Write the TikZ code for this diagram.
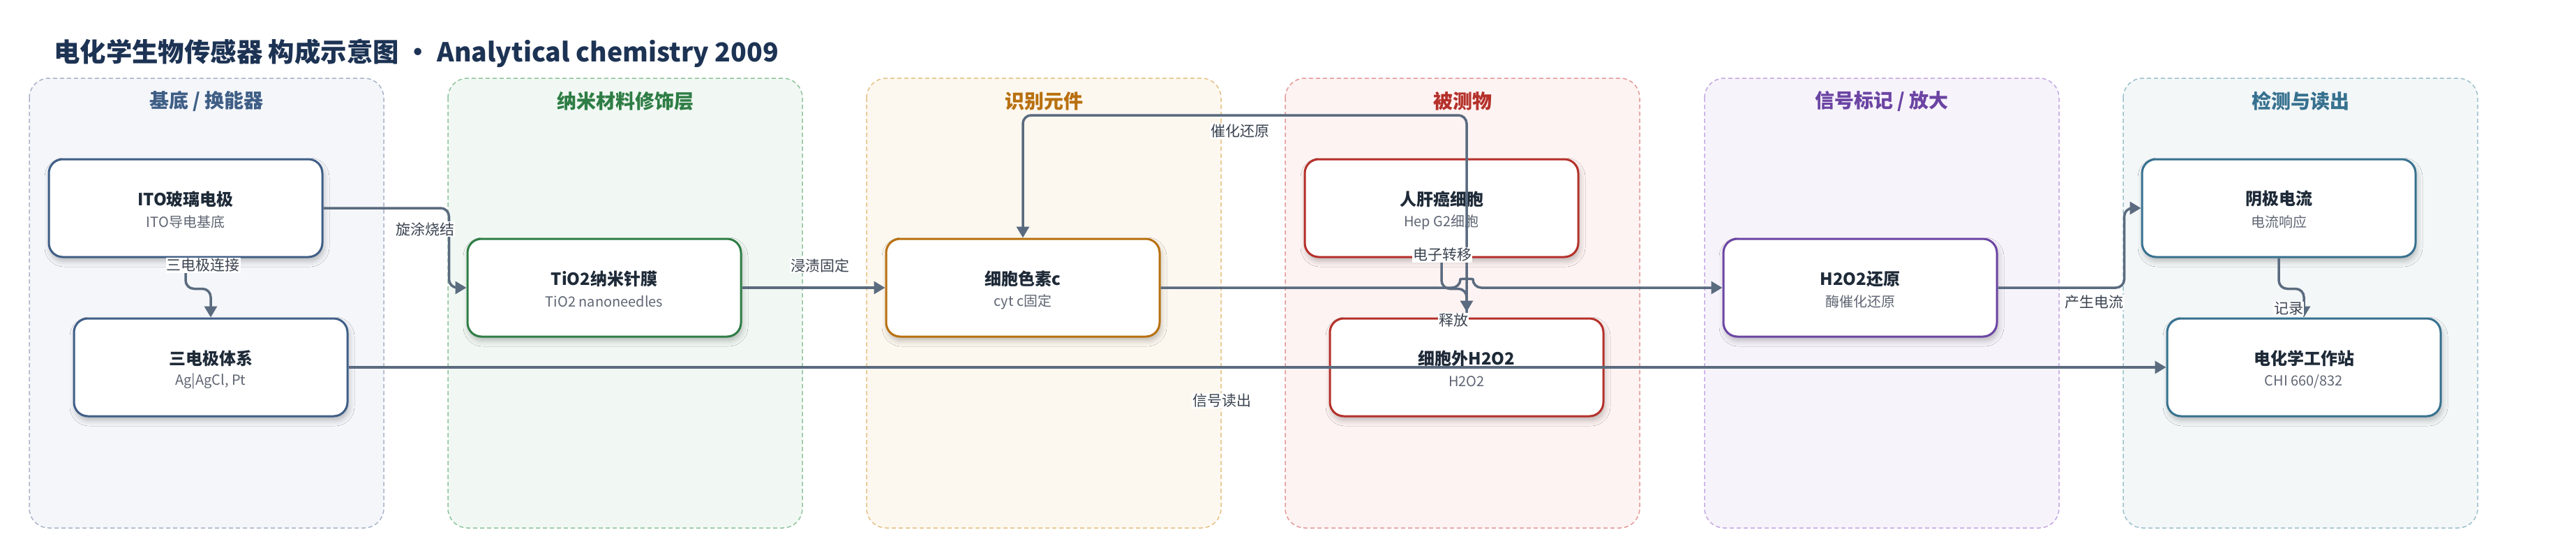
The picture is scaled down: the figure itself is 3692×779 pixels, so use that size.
\documentclass[tikz,border=0pt]{standalone}
\usepackage{fontspec}
\setmainfont{Noto Sans CJK SC}
\usetikzlibrary{arrows.meta,shadows.blur,calc}
\definecolor{titlec}{HTML}{1D3354}
\definecolor{edgec}{HTML}{5B6B7F}
\definecolor{lblc}{HTML}{3A4350}
\definecolor{ttlc}{HTML}{1E2A38}
\definecolor{subc}{HTML}{5F6673}
\definecolor{bA}{HTML}{3F5E86}\definecolor{fA}{HTML}{F4F6FA}\definecolor{dA}{HTML}{A9B5C8}
\definecolor{bB}{HTML}{2E7D45}\definecolor{fB}{HTML}{F1F8F3}\definecolor{dB}{HTML}{8FC49E}
\definecolor{bC}{HTML}{B8700F}\definecolor{fC}{HTML}{FDF8EF}\definecolor{dC}{HTML}{E5C185}
\definecolor{bD}{HTML}{B5302A}\definecolor{fD}{HTML}{FDF3F2}\definecolor{dD}{HTML}{E49A9A}
\definecolor{bE}{HTML}{6B44A3}\definecolor{fE}{HTML}{F7F3FB}\definecolor{dE}{HTML}{C4A8E2}
\definecolor{bF}{HTML}{37718F}\definecolor{fF}{HTML}{F3F7F8}\definecolor{dF}{HTML}{9CC0CC}
\newcommand\mybox[6]{%
  \node[box, draw=#4] (#1) at (#2,#3) {};
  \node[ttl] (#1-t) at ($(#1.center)+(0,-13)$) {#5};
  \node[sub] (#1-s) at ($(#1.center)+(0,20)$) {#6};
}
\begin{document}
\begin{tikzpicture}[x=1pt,y=-1pt,
  panelbox/.style={rounded corners=28pt, line width=1.5pt, dash pattern=on 6pt off 4pt},
  ptitle/.style={font=\fontsize{28}{32}\selectfont\bfseries, inner sep=0pt},
  box/.style={rectangle, rounded corners=20pt, minimum width=392pt, minimum height=140pt,
    fill=white, line width=3pt,
    blur shadow={shadow xshift=2pt, shadow yshift=-6pt, shadow blur radius=8pt, shadow opacity=25}},
  ttl/.style={font=\fontsize{24}{28}\selectfont\bfseries, text=ttlc, inner sep=0pt},
  sub/.style={font=\fontsize{20}{24}\selectfont, text=subc, inner sep=0pt},
  edge/.style={draw=edgec, line width=3.5pt, rounded corners=12pt,
    -{Triangle[length=16pt,width=18pt]}},
  lbl/.style={fill=white, inner sep=1pt, text=lblc, font=\fontsize{21}{24}\selectfont},
]
\useasboundingbox (0,0) rectangle (3692,779);
\fill[white] (0,0) rectangle (3692,779);
\node[anchor=west, inner sep=0pt, text=titlec, font=\fontsize{37.4}{44}\selectfont\bfseries] (title) at (77,76)
  {电化学生物传感器 构成示意图 · Analytical chemistry 2009};
% panels
\path[panelbox, fill=fA, draw=dA] (42,112) rectangle ++(508,644);
\node[ptitle, text=bA] (pA) at (296,145) {基底 / 换能器};
\path[panelbox, fill=fB, draw=dB] (642,112) rectangle ++(508,644);
\node[ptitle, text=bB] (pB) at (896,145) {纳米材料修饰层};
\path[panelbox, fill=fC, draw=dC] (1242,112) rectangle ++(508,644);
\node[ptitle, text=bC] (pC) at (1496,145) {识别元件};
\path[panelbox, fill=fD, draw=dD] (1842,112) rectangle ++(508,644);
\node[ptitle, text=bD] (pD) at (2096,145) {被测物};
\path[panelbox, fill=fE, draw=dE] (2443,112) rectangle ++(508,644);
\node[ptitle, text=bE] (pE) at (2697,145) {信号标记 / 放大};
\path[panelbox, fill=fF, draw=dF] (3043,112) rectangle ++(508,644);
\node[ptitle, text=bF] (pF) at (3297,145) {检测与读出};
% nodes
\mybox{ito}{266}{298}{bA}{ITO玻璃电极}{ITO导电基底}
\mybox{tri}{302}{526}{bA}{三电极体系}{Ag|AgCl, Pt}
\mybox{tio}{866}{412}{bB}{TiO2纳米针膜}{TiO2 nanoneedles}
\mybox{cyt}{1466}{412}{bC}{细胞色素c}{cyt c固定}
\mybox{hep}{2066}{298}{bD}{人肝癌细胞}{Hep G2细胞}
\mybox{hoo}{2102}{526}{bD}{细胞外H2O2}{H2O2}
\mybox{red}{2666}{412}{bE}{H2O2还原}{酶催化还原}
\mybox{cat}{3266}{298}{bF}{阴极电流}{电流响应}
\mybox{ws}{3302}{526}{bF}{电化学工作站}{CHI 660/832}
% edges
\coordinate (topy) at (0,165);
\draw[edge] (ito.east) -- ++(180,0) |- (tio.west);
\draw[edge] (ito.south) -- ++(0,44) -| (tri.north);
\draw[edge] (tio.east) -- (cyt.west);
\draw[edge] (tri.east) -- (ws.west);
\draw[edge] (hoo.north) -- (hoo.north |- topy) -| (cyt.north);
\draw[edge] (cyt.east) -- (2093,412) .. controls (2093,399) and (2111,399) .. (2111,412) -- (red.west);
\draw[edge, shorten >=8pt] (hep.south) -- ++(0,44) -| (hoo.north);
\draw[edge] (red.east) -- ++(181,0) |- (cat.west);
\draw[edge] (cat.south) -- ++(0,44) -| (ws.north);
% labels
\node[lbl] (l1) at (609,328) {旋涂烧结};
\node[lbl] (l2) at (291,380) {三电极连接};
\node[lbl] (l3) at (1175,380) {浸渍固定};
\node[lbl] (l4) at (1777,188) {催化还原};
\node[lbl] (l5) at (2067,365) {电子转移};
\node[lbl] (l6) at (2083,459) {释放};
\node[lbl] (l7) at (3001,433) {产生电流};
\node[lbl] (l8) at (3280,442) {记录};
\node[lbl] (l9) at (1751,574) {信号读出};
\end{tikzpicture}
\end{document}
